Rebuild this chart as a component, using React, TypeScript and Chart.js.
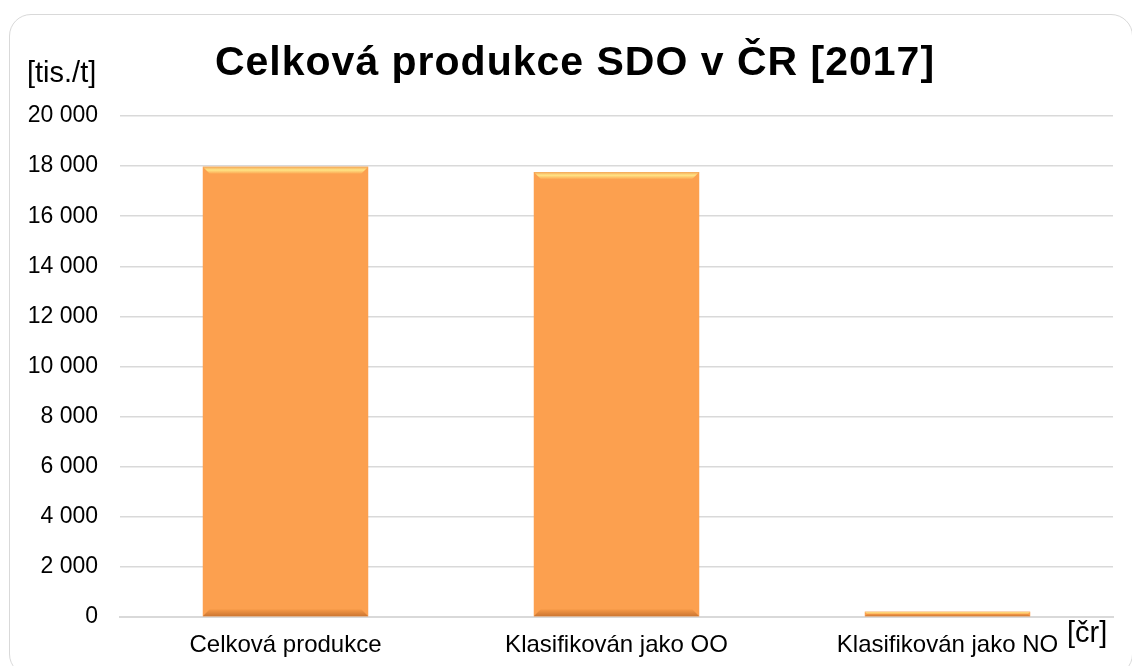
import React, { useEffect, useRef } from "react";
import { Chart, registerables } from "chart.js";

Chart.register(...registerables);

const categories = ["Celková produkce", "Klasifikován jako OO", "Klasifikován jako NO"];
const values = [17970, 17760, 210];
const titleText = "Celková produkce SDO v ČR [2017]";
const yAxisLabel = "[tis./t]";
const xAxisLabel = "[čr]";
const yMin = 0;
const yMax = 20000;
const yStep = 2000;

const FONT = "Arial, 'Liberation Sans', sans-serif";

function fmt(v: number): string {
  return String(Math.round(v)).replace(/\B(?=(\d{3})+(?!\d))/g, " ");
}

const overlayPlugin = {
  id: "overlayText",
  afterDatasetsDraw(chart: any) {
    const ctx = chart.ctx;
    const meta = chart.getDatasetMeta(0);
    ctx.save();
    meta.data.forEach((bar: any) => {
      const { x, y, base, width } = bar.getProps(["x", "y", "base", "width"], true);
      const left = x - width / 2;
      const h = base - y;
      const bev = Math.min(7, h / 2);
      ctx.beginPath();
      ctx.moveTo(left, y);
      ctx.lineTo(left + width, y);
      ctx.lineTo(left + width - bev, y + bev);
      ctx.lineTo(left + bev, y + bev);
      ctx.closePath();
      const g = ctx.createLinearGradient(0, y, 0, y + bev);
      g.addColorStop(0, "#f4a858");
      g.addColorStop(0.45, "#ffe485");
      g.addColorStop(1, "#fca651");
      ctx.fillStyle = g;
      ctx.fill();
      ctx.beginPath();
      ctx.moveTo(left, base);
      ctx.lineTo(left + width, base);
      ctx.lineTo(left + width - bev, base - bev);
      ctx.lineTo(left + bev, base - bev);
      ctx.closePath();
      const g2 = ctx.createLinearGradient(0, base - bev, 0, base);
      g2.addColorStop(0, "#f79a48");
      g2.addColorStop(1, "#cc7632");
      ctx.fillStyle = g2;
      ctx.fill();
    });
    ctx.restore();
  },
  afterDraw(chart: any) {
    const ctx = chart.ctx;
    ctx.save();
    ctx.fillStyle = "#000";
    ctx.textBaseline = "alphabetic";
    ctx.font = `bold 41px ${FONT}`;
    (ctx as any).letterSpacing = "1px";
    ctx.textAlign = "left";
    const tw = ctx.measureText(titleText).width;
    ctx.fillText(titleText, 575 - tw / 2, 75);
    (ctx as any).letterSpacing = "0px";
    ctx.font = `29px ${FONT}`;
    ctx.textAlign = "left";
    ctx.fillText(yAxisLabel, 27, 82);
    ctx.fillText(xAxisLabel, 1067, 642);
    ctx.restore();
  },
};

export default function App() {
  const ref = useRef<HTMLCanvasElement | null>(null);
  useEffect(() => {
    if (!ref.current) return;
    const chart = new Chart(ref.current, {
      type: "bar",
      data: {
        labels: categories,
        datasets: [
          {
            data: values,
            backgroundColor: (c: any) => {
              const el = c.element;
              const chartCtx = c.chart.ctx;
              if (!el || el.x === undefined) return "#fca04f";
              const w = el.width || 166;
              const g = chartCtx.createLinearGradient(el.x - w / 2, 0, el.x + w / 2, 0);
              g.addColorStop(0, "#8c5022");
              g.addColorStop(0.018, "#bf6f2c");
              g.addColorStop(0.045, "#ef9345");
              g.addColorStop(0.075, "#fca04f");
              g.addColorStop(0.925, "#fca04f");
              g.addColorStop(0.955, "#ef9345");
              g.addColorStop(0.982, "#bf6f2c");
              g.addColorStop(1, "#8c5022");
              return g;
            },
            borderWidth: 0,
            barPercentage: 0.5,
            categoryPercentage: 1,
          },
        ],
      },
      options: {
        animation: false,
        responsive: false,
        maintainAspectRatio: false,
        layout: { padding: { top: 116, right: 19, left: 0, bottom: 0 } },
        plugins: {
          legend: { display: false },
          title: { display: false },
          tooltip: { enabled: false },
        },
        scales: {
          x: {
            grid: { display: false, drawTicks: false },
            border: { display: true, color: "#d9d9d9", width: 2 },
            ticks: {
              color: "#000",
              font: { family: FONT, size: 24 },
              padding: 14,
              maxRotation: 0,
              autoSkip: false,
            },
            afterFit: (s: any) => {
              s.height = 49;
            },
          },
          y: {
            min: yMin,
            max: yMax,
            grid: { color: "#d9d9d9", lineWidth: 1.5, drawTicks: false },
            border: { display: false },
            ticks: {
              stepSize: yStep,
              color: "#000",
              font: { family: FONT, size: 23 },
              padding: 22,
              callback: (v: any) => fmt(Number(v)),
            },
            afterFit: (s: any) => {
              s.width = 120;
            },
          },
        },
      },
      plugins: [overlayPlugin],
    });
    return () => chart.destroy();
  }, []);

  return (
    <div style={{ position: "absolute", left: 0, top: 0, width: 1132, height: 666, background: "#fff", overflow: "hidden" }}>
      <div
        style={{
          position: "absolute",
          left: 9,
          top: 14,
          width: 1124,
          height: 662,
          boxSizing: "border-box",
          border: "1.5px solid #d9d9d9",
          borderRadius: 22,
        }}
      />
      <canvas ref={ref} width={1132} height={666} style={{ position: "absolute", left: 0, top: 0 }} />
    </div>
  );
}
